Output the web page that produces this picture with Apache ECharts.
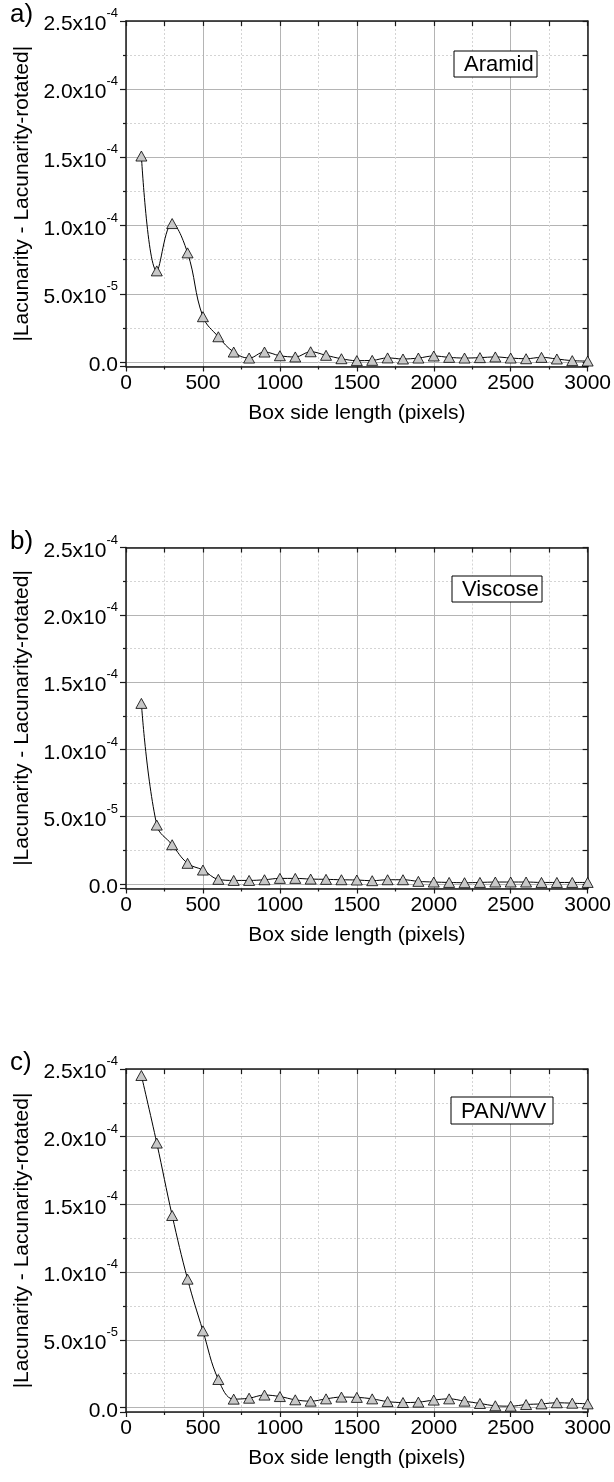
<html>
<head>
<meta charset="utf-8" />
<title>Lacunarity difference</title>
<script src="https://cdn.jsdelivr.net/npm/echarts@6/dist/echarts.min.js"></script>
<style>
  body { margin: 0; background: #fff; }
  #chart { width: 614px; height: 1482px; }
</style>
</head>
<body>
<div id="chart"></div>
<script type="text/javascript">
// box side lengths (pixels)
var boxSides = [100, 200, 300, 400, 500, 600, 700, 800, 900, 1000,
                1100, 1200, 1300, 1400, 1500, 1600, 1700, 1800, 1900, 2000,
                2100, 2200, 2300, 2400, 2500, 2600, 2700, 2800, 2900, 3000];

// |Lacunarity - Lacunarity-rotated|
var aramid = [1.51e-4, 6.68e-5, 1.015e-4, 8.0e-5, 3.32e-5, 1.85e-5, 7.3e-6, 2.9e-6, 7.3e-6, 4.6e-6,
              3.7e-6, 7.5e-6, 4.9e-6, 2.4e-6, 1.0e-6, 1.2e-6, 3.0e-6, 2.2e-6, 2.9e-6, 4.4e-6,
              3.4e-6, 2.9e-6, 3.2e-6, 3.7e-6, 2.9e-6, 2.4e-6, 3.4e-6, 2.2e-6, 1.0e-6, 0.7e-6];
var viscose = [1.342e-4, 4.38e-5, 2.92e-5, 1.54e-5, 1.04e-5, 3.5e-6, 2.7e-6, 2.7e-6, 3.2e-6, 4.2e-6,
               4.2e-6, 3.7e-6, 3.5e-6, 3.2e-6, 3.0e-6, 2.5e-6, 3.2e-6, 3.2e-6, 2.0e-6, 1.5e-6,
               1.2e-6, 1.0e-6, 1.2e-6, 1.5e-6, 1.5e-6, 1.5e-6, 1.2e-6, 1.2e-6, 1.2e-6, 1.2e-6];
var panWv = [2.452e-4, 1.953e-4, 1.418e-4, 9.48e-5, 5.66e-5, 2.07e-5, 6.2e-6, 6.9e-6, 9.2e-6, 8.1e-6,
             5.7e-6, 4.7e-6, 6.4e-6, 7.7e-6, 7.5e-6, 6.4e-6, 4.4e-6, 3.7e-6, 4.0e-6, 5.5e-6,
             6.4e-6, 4.7e-6, 3.0e-6, 1.3e-6, 1.0e-6, 2.2e-6, 2.7e-6, 3.5e-6, 3.2e-6, 2.7e-6];

var panelLetters = ['a)', 'b)', 'c)'];
var sampleNames = ['Aramid', 'Viscose', 'PAN/WV'];
var yTickLabels = {'0': '0.0', '0.00005': '5.0x10|-5', '0.0001': '1.0x10|-4',
                   '0.00015': '1.5x10|-4', '0.0002': '2.0x10|-4', '0.00025': '2.5x10|-4'};

var chartDom = document.getElementById('chart');
var myChart = echarts.init(chartDom);

var FONT = '"Liberation Sans Narrow", "Liberation Sans", Arial, sans-serif';
var yMin = -3.3e-6;
var yMax = 2.5e-4;

// plot frames
var grids = [
    {left: 126, top: 21, width: 464, height: 345.5},
    {left: 126, top: 547.5, width: 462, height: 341},
    {left: 126, top: 1069, width: 462, height: 343}
];
var boxes = [
    {x: 454, y: 51, w: 83, h: 26},
    {x: 452, y: 576, w: 90, h: 26},
    {x: 451, y: 1097, w: 102, h: 27}
];

function yLabel(v) {
    if (v < 0) return '';
    var key = String(+v.toPrecision(3));
    var s = yTickLabels[key];
    if (!s) return '';
    var parts = s.split('|');
    if (parts.length === 1) return '{m|' + parts[0] + '}';
    return '{m|' + parts[0] + '}{s|' + parts[1] + '}';
}

var axisLineStyle = {color: '#1a1a1a', width: 1.5};
var majorGrid = {show: true, lineStyle: {color: '#b4b4b4', width: 1}};
var minorGrid = {show: true, lineStyle: {color: '#d4d4d4', width: 1, type: [2, 2]}};

var xAxes = [], yAxes = [], series = [], graphics = [];
var allData = [aramid, viscose, panWv];

for (var p = 0; p < 3; p++) {
    xAxes.push({
        type: 'value', gridIndex: p, position: 'bottom', min: 0, max: 3000, interval: 500,
        axisLine: {show: true, onZero: false, lineStyle: axisLineStyle},
        axisTick: {show: true, inside: false, length: 5, lineStyle: {color: '#1a1a1a', width: 1.2}},
        minorTick: {show: true, splitNumber: 2, length: 3, lineStyle: {color: '#1a1a1a', width: 1.2}},
        splitLine: majorGrid,
        minorSplitLine: minorGrid,
        axisLabel: {fontFamily: FONT, fontSize: 21, color: '#000', margin: 6,
                    formatter: function (v) { return String(v); }},
        name: 'Box side length (pixels)', nameLocation: 'middle', nameGap: 36,
        nameTextStyle: {fontFamily: FONT, fontSize: 21, color: '#000'}
    });
    xAxes.push({
        type: 'value', gridIndex: p, position: 'top', min: 0, max: 3000, interval: 250,
        axisLine: {show: true, onZero: false, lineStyle: axisLineStyle},
        axisTick: {show: true, inside: true, length: 5, lineStyle: {color: '#1a1a1a', width: 1.2}},
        axisLabel: {show: false}, splitLine: {show: false}
    });
    yAxes.push({
        type: 'value', gridIndex: p, position: 'left', min: yMin, max: yMax,
        splitNumber: 5, minInterval: 5e-5, maxInterval: 5e-5,
        axisLine: {show: true, onZero: false, lineStyle: axisLineStyle},
        axisTick: {show: true, inside: false, length: 6, lineStyle: {color: '#1a1a1a', width: 1.2}},
        minorTick: {show: true, splitNumber: 2, length: 3, lineStyle: {color: '#1a1a1a', width: 1.2}},
        splitLine: majorGrid,
        minorSplitLine: minorGrid,
        axisLabel: {
            margin: 8, showMinLabel: false, formatter: yLabel,
            rich: {
                m: {fontFamily: FONT, fontSize: 21, color: '#000', verticalAlign: 'bottom', lineHeight: 28},
                s: {fontFamily: FONT, fontSize: 13, color: '#000', verticalAlign: 'top', lineHeight: 28}
            }
        },
        name: '|Lacunarity - Lacunarity-rotated|', nameLocation: 'middle', nameGap: 84,
        nameTextStyle: {fontFamily: FONT, fontSize: 21, color: '#000'}
    });
    yAxes.push({
        type: 'value', gridIndex: p, position: 'right', min: yMin, max: yMax,
        splitNumber: 5, minInterval: 5e-5, maxInterval: 5e-5,
        axisLine: {show: true, onZero: false, lineStyle: axisLineStyle},
        axisTick: {show: true, inside: true, length: 5, lineStyle: {color: '#1a1a1a', width: 1.2}},
        minorTick: {show: true, splitNumber: 2, length: 5, lineStyle: {color: '#1a1a1a', width: 1.2}},
        axisLabel: {show: false}, splitLine: {show: false}
    });

    var pts = [];
    for (var i = 0; i < boxSides.length; i++) pts.push([boxSides[i], allData[p][i]]);
    series.push({
        type: 'line', name: sampleNames[p], xAxisIndex: p * 2, yAxisIndex: p * 2,
        data: pts, smooth: 0.4, clip: true,
        symbol: 'triangle', symbolSize: [11, 10],
        lineStyle: {color: '#000', width: 1},
        itemStyle: {color: '#c8c8c8', borderColor: '#000', borderWidth: 0.8},
        z: 5
    });

    graphics.push({
        type: 'text', left: 10, top: grids[p].top - 19,
        style: {text: panelLetters[p], font: '26px ' + FONT, fill: '#000'}
    });
    graphics.push({
        type: 'rect', shape: {x: boxes[p].x, y: boxes[p].y, width: boxes[p].w, height: boxes[p].h},
        style: {fill: '#fff', stroke: '#000', lineWidth: 1}, z: 10
    });
    graphics.push({
        type: 'text', x: boxes[p].x + 10, y: boxes[p].y + boxes[p].h / 2 + 1, z: 11,
        style: {text: sampleNames[p], font: '22px ' + FONT, fill: '#000', verticalAlign: 'middle'}
    });
}

var option = {
    animation: false,
    backgroundColor: '#fff',
    grid: grids,
    xAxis: xAxes,
    yAxis: yAxes,
    series: series,
    graphic: graphics
};
option && myChart.setOption(option);
</script>
</body>
</html>
